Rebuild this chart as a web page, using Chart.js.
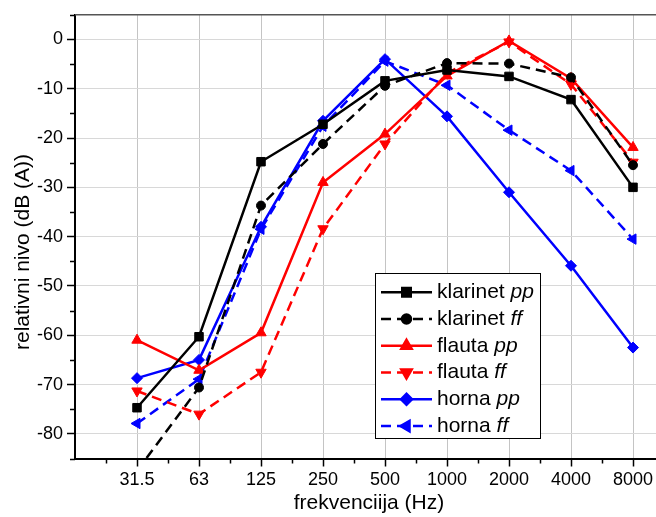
<!DOCTYPE html>
<html lang="hr">
<head>
    <meta charset="UTF-8">
    <title>Relativni nivo</title>
    <script src="https://cdn.jsdelivr.net/npm/chart.js"></script>
    <style>
        body { margin: 0; background: #fff; overflow: hidden; }
        #wrap { width: 680px; height: 517px; }
    </style>
</head>
<body>
    <div id="wrap"><canvas id="nivoChart"></canvas></div>

    <script>
        // oktavne frekvencije (Hz)
        const freqLabels = ['31.5', '63', '125', '250', '500', '1000', '2000', '4000', '8000'];
        const bandIndex = [1, 2, 3, 4, 5, 6, 7, 8, 9];

        const klarinetPP = [-74.7, -60.3, -24.8, -17.2, -8.4, -6.2, -7.5, -12.2, -30.0];
        const klarinetFF = [-87.5, -70.6, -33.7, -21.2, -9.4, -4.8, -4.9, -7.7, -25.5];
        const flautaPP = [-61.0, -67.1, -59.5, -29.0, -19.2, -7.4, -0.3, -7.9, -21.9];
        const flautaFF = [-71.3, -76.0, -67.5, -38.4, -21.2, -6.8, -0.5, -9.1, -24.9];
        const hornaPP = [-68.7, -65.0, -38.0, -16.5, -4.0, -15.6, -31.0, -45.9, -62.5];
        const hornaFF = [-77.9, -68.9, -38.5, -17.6, -4.4, -9.3, -18.4, -26.6, -40.5];

        const yTicks = [-80, -70, -60, -50, -40, -30, -20, -10, 0];

        const FONT = '"Liberation Sans", Arial, sans-serif';

        function pts(values) {
            return values.map((v, i) => ({ x: bandIndex[i], y: v }));
        }

        function series(name, dyn, values, color, style, rot, radius, dashed) {
            return {
                label: name + ' ' + dyn,
                instrument: name,
                dynamic: dyn,
                data: pts(values),
                borderColor: color,
                backgroundColor: color,
                borderWidth: 2.5,
                borderDash: dashed ? [10, 6] : [],
                pointStyle: style,
                pointRotation: rot,
                pointRadius: radius,
                pointBorderWidth: 1,
                pointBackgroundColor: color,
                pointBorderColor: color,
                tension: 0
            };
        }

        const datasets = [
            series('klarinet', 'pp', klarinetPP, '#000000', 'rect', 0, 6, false),
            series('klarinet', 'ff', klarinetFF, '#000000', 'circle', 0, 4.5, true),
            series('flauta', 'pp', flautaPP, '#ff0000', 'triangle', 0, 6, false),
            series('flauta', 'ff', flautaFF, '#ff0000', 'triangle', 180, 6, true),
            series('horna', 'pp', hornaPP, '#0000ff', 'rectRot', 0, 5.5, false),
            series('horna', 'ff', hornaFF, '#0000ff', 'triangle', -90, 6, true)
        ];

        // top frame line + minor ticks
        const framePlugin = {
            id: 'frame',
            afterDraw(chart) {
                const { ctx, chartArea, scales } = chart;
                ctx.save();
                ctx.strokeStyle = '#555';
                ctx.lineWidth = 1.5;
                ctx.beginPath();
                ctx.moveTo(chartArea.left, chartArea.top);
                ctx.lineTo(chartArea.right, chartArea.top);
                ctx.stroke();

                ctx.strokeStyle = '#000';
                ctx.lineWidth = 1.5;
                ctx.beginPath();
                for (let v = 0.5; v <= 9.5; v += 1) {
                    const px = Math.round(scales.x.getPixelForValue(v)) + 0.5;
                    ctx.moveTo(px, chartArea.bottom);
                    ctx.lineTo(px, chartArea.bottom + 5);
                }
                for (let v = -85; v <= 5; v += 10) {
                    const py = Math.round(scales.y.getPixelForValue(v)) + 0.5;
                    ctx.moveTo(chartArea.left, py);
                    ctx.lineTo(chartArea.left - 5, py);
                }
                ctx.stroke();
                ctx.restore();
            }
        };

        const titlePlugin = {
            id: 'axisTitles',
            afterDraw(chart) {
                const ctx = chart.ctx;
                ctx.save();
                ctx.fillStyle = '#000';
                ctx.font = '21px ' + FONT;
                ctx.textAlign = 'center';
                ctx.textBaseline = 'middle';
                ctx.fillText('frekvenciija (Hz)', 369, 503);
                ctx.translate(23, 252);
                ctx.rotate(-Math.PI / 2);
                ctx.fillText('relativni nivo (dB (A))', 0, 0);
                ctx.restore();
            }
        };

        const legendPlugin = {
            id: 'boxLegend',
            afterDraw(chart) {
                const ctx = chart.ctx;
                const bx = 375, by = 273, bw = 165, bh = 165;
                ctx.save();
                ctx.fillStyle = '#fff';
                ctx.fillRect(bx, by, bw, bh);
                ctx.strokeStyle = '#000';
                ctx.lineWidth = 1;
                ctx.strokeRect(bx + 0.5, by + 0.5, bw, bh);

                chart.data.datasets.forEach((ds, i) => {
                    const y = 292.3 + i * 26.75;
                    ctx.strokeStyle = ds.borderColor;
                    ctx.lineWidth = ds.borderWidth;
                    ctx.setLineDash(ds.borderDash);
                    ctx.beginPath();
                    ctx.moveTo(381, y);
                    ctx.lineTo(432, y);
                    ctx.stroke();
                    ctx.setLineDash([]);

                    ctx.fillStyle = ds.pointBackgroundColor;
                    ctx.strokeStyle = ds.pointBorderColor;
                    Chart.helpers.drawPoint(ctx, {
                        pointStyle: ds.pointStyle,
                        rotation: ds.pointRotation,
                        radius: ds.pointRadius,
                        borderWidth: 1
                    }, 406.5, y);

                    ctx.fillStyle = '#000';
                    ctx.textBaseline = 'middle';
                    ctx.textAlign = 'left';
                    ctx.font = '21px ' + FONT;
                    const name = ds.instrument + ' ';
                    ctx.fillText(name, 437, y);
                    const w = ctx.measureText(name).width;
                    ctx.font = 'italic 21px ' + FONT;
                    ctx.fillText(ds.dynamic, 437 + w, y);
                });
                ctx.restore();
            }
        };

        const chart = new Chart(document.getElementById('nivoChart'), {
            type: 'line',
            data: { datasets: datasets },
            plugins: [framePlugin, titlePlugin, legendPlugin],
            options: {
                responsive: true,
                maintainAspectRatio: false,
                animation: false,
                layout: { padding: { top: 11, right: 16, left: 0, bottom: 0 } },
                plugins: {
                    legend: { display: false },
                    tooltip: { enabled: false }
                },
                scales: {
                    x: {
                        type: 'linear',
                        min: 0,
                        max: 9.5,
                        afterBuildTicks: s => { s.ticks = bandIndex.map(v => ({ value: v })); },
                        afterFit: s => { s.height = 58.5; },
                        ticks: {
                            callback: v => freqLabels[v - 1] || '',
                            color: '#000',
                            font: { family: FONT, size: 18 },
                            padding: 3,
                            maxRotation: 0,
                            autoSkip: false
                        },
                        grid: {
                            color: '#c4c4c4',
                            lineWidth: 1,
                            tickLength: 8,
                            tickColor: '#000',
                            tickWidth: 1.5
                        },
                        border: { color: '#000', width: 2 }
                    },
                    y: {
                        min: -85,
                        max: 5,
                        afterBuildTicks: s => { s.ticks = yTicks.map(v => ({ value: v })); },
                        afterFit: s => { s.width = 75; },
                        ticks: {
                            callback: v => String(v),
                            color: '#000',
                            font: { family: FONT, size: 18 },
                            padding: 4
                        },
                        grid: {
                            color: '#d8d8d8',
                            lineWidth: 1,
                            tickLength: 8,
                            tickColor: '#000',
                            tickWidth: 1.5
                        },
                        border: { color: '#000', width: 2 }
                    }
                }
            }
        });
    </script>
</body>
</html>
